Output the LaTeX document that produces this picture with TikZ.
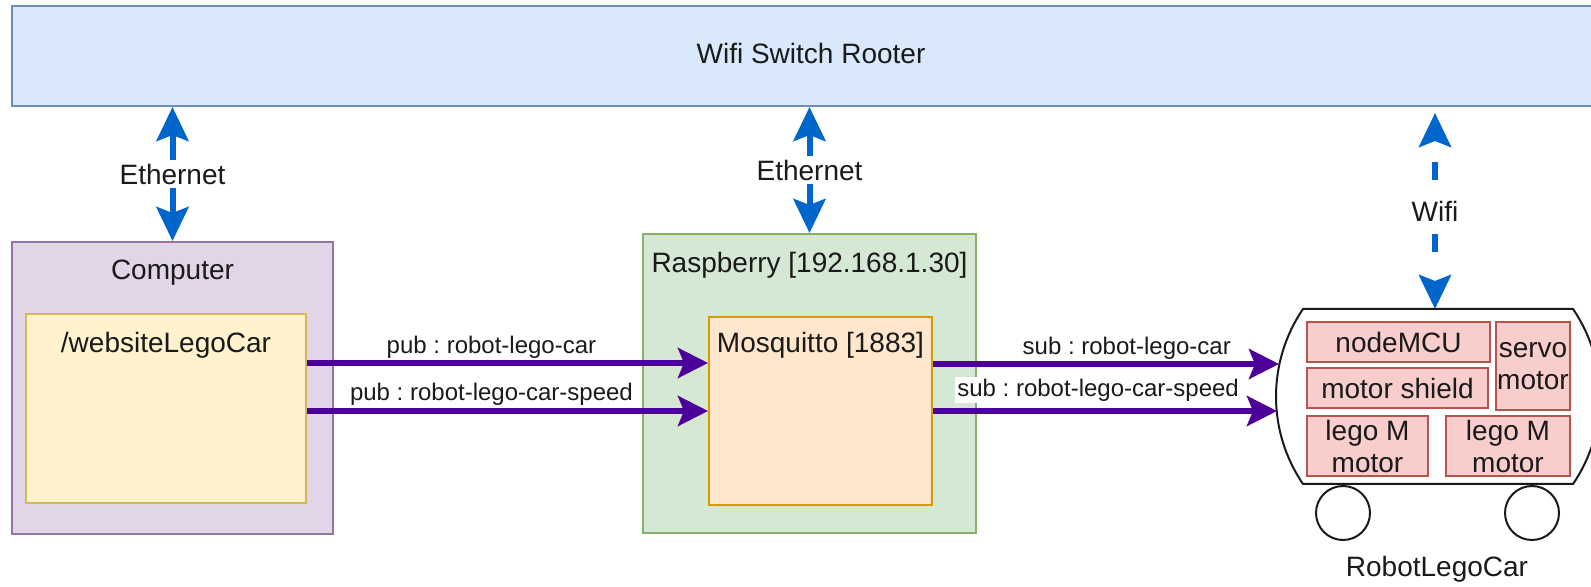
\documentclass[tikz,border=0pt]{standalone}
\usepackage{fontspec}
\setmainfont{Liberation Sans}
\usetikzlibrary{arrows.meta}
\frenchspacing
\definecolor{routerfill}{HTML}{DAE8FC}
\definecolor{routerline}{HTML}{6C8EBF}
\definecolor{pcfill}{HTML}{E1D5E7}
\definecolor{pcline}{HTML}{9673A6}
\definecolor{webfill}{HTML}{FFF2CC}
\definecolor{webline}{HTML}{D6B656}
\definecolor{rpifill}{HTML}{D5E8D4}
\definecolor{rpiline}{HTML}{82B366}
\definecolor{mqfill}{HTML}{FFE6CC}
\definecolor{mqline}{HTML}{D79B00}
\definecolor{partfill}{HTML}{F8CECC}
\definecolor{partline}{HTML}{B85450}
\definecolor{netblue}{HTML}{0066CC}
\definecolor{msgpurple}{HTML}{4C0099}
\definecolor{inktext}{HTML}{1A1A1A}
\begin{document}
\begin{tikzpicture}[x=0.5pt,y=-0.5pt,
  every node/.style={font=\fontsize{14}{16}\selectfont, text=inktext},
  box/.style={draw, line width=1pt, rectangle, inner sep=0pt},
  part/.style={box, draw=partline, fill=partfill, align=center},
  link/.style={draw=netblue, line width=3pt,
    arrows={Stealth[length=17pt,width=16pt,inset=3pt]-Stealth[length=17pt,width=16pt,inset=3pt]}},
  radio/.style={link, dash pattern=on 0pt off 11.5pt on 9pt off 9pt on 9pt off 9pt on 9pt off 60pt},
  linklabel/.style={fill=white, inner sep=2pt},
  topic/.style={draw=msgpurple, line width=2.8pt,
    arrows={-Stealth[length=15pt,width=15pt,inset=3pt]}},
  topiclabel/.style={fill=white, inner sep=1pt, font=\fontsize{12}{14}\selectfont}
]
\useasboundingbox (0,0) rectangle (1591,587);

% router bar across the top
\node[box, draw=routerline, fill=routerfill, minimum width=799pt, minimum height=50pt] (router) at (811,56) {};
\node (routertitle) at (811,53) {Wifi Switch Rooter};

% computer with the web page
\node[box, draw=pcline, fill=pcfill, minimum width=160.5pt, minimum height=146pt] (computer) at (172.5,388) {};
\node (computertitle) at (172.5,273) {Computer};
\node[box, draw=webline, fill=webfill, minimum width=140pt, minimum height=94.5pt] (website) at (166,408.5) {};
\node (websitetitle) at (166,345) {/websiteLegoCar};

% raspberry pi running the broker
\node[box, draw=rpiline, fill=rpifill, minimum width=166.5pt, minimum height=149.5pt] (raspberry) at (809.5,383.5) {};
\node (raspberrytitle) at (809.5,265) {Raspberry [192.168.1.30]};
\node[box, draw=mqline, fill=mqfill, minimum width=111.5pt, minimum height=94pt] (mosquitto) at (820.5,411) {};
\node (mosquittotitle) at (820.5,345) {Mosquitto [1883]};

% robot car body
\draw[line width=1pt, draw=inktext, fill=white]
  (1303,309) -- (1573,309) .. controls (1609,361.8) and (1609,431.2) .. (1573,484)
  -- (1303,484) .. controls (1267,431.2) and (1267,361.8) .. (1303,309) -- cycle;
\coordinate (cartop) at (1435,309);
\coordinate (carin1) at (1279,364);
\coordinate (carin2) at (1277,411);
\coordinate (wifitop) at (1435,113);

\node[part, minimum width=91.5pt, minimum height=20pt] (nodemcu) at (1398.5,342) {nodeMCU};
\node[part, minimum width=90.5pt, minimum height=20pt] (shield) at (1397.5,388) {motor shield};
\node[part, minimum width=37pt, minimum height=44pt] (servo) at (1533,366) {servo\\motor};
\node[part, minimum width=60.5pt, minimum height=30pt] (legoA) at (1367.5,446) {lego M\\motor};
\node[part, minimum width=62pt, minimum height=30pt] (legoB) at (1508,446) {lego M\\motor};

\draw[line width=1pt, draw=inktext, fill=white] (1343,513) circle[radius=13.5pt];
\draw[line width=1pt, draw=inktext, fill=white] (1532,513) circle[radius=13.5pt];
\node (cartitle) at (1437,569) {RobotLegoCar};

% network links
\draw[link] (router.south -| computer.north) -- node[linklabel]{Ethernet} (computer.north);
\draw[link] (router.south -| raspberry.north) -- node[linklabel]{Ethernet} (raspberry.north);
\draw[radio] (wifitop) -- node[linklabel]{Wifi} (cartop);

% MQTT topics
\coordinate (rowA) at (0,363);
\coordinate (rowB) at (0,411);
\draw[topic] (website.east |- rowA) -- node[topiclabel, pos=0.46, yshift=8pt]{pub : robot-lego-car} (mosquitto.west |- rowA);
\draw[topic] (website.east |- rowB) -- node[topiclabel, pos=0.46, yshift=8.5pt]{pub : robot-lego-car-speed} (mosquitto.west |- rowB);
\draw[topic] (mosquitto.east |- carin1) -- node[topiclabel, pos=0.56, yshift=8pt]{sub : robot-lego-car} (carin1);
\draw[topic] (mosquitto.east |- carin2) -- node[topiclabel, pos=0.48, yshift=10.5pt]{sub : robot-lego-car-speed} (carin2);
\end{tikzpicture}
\end{document}
